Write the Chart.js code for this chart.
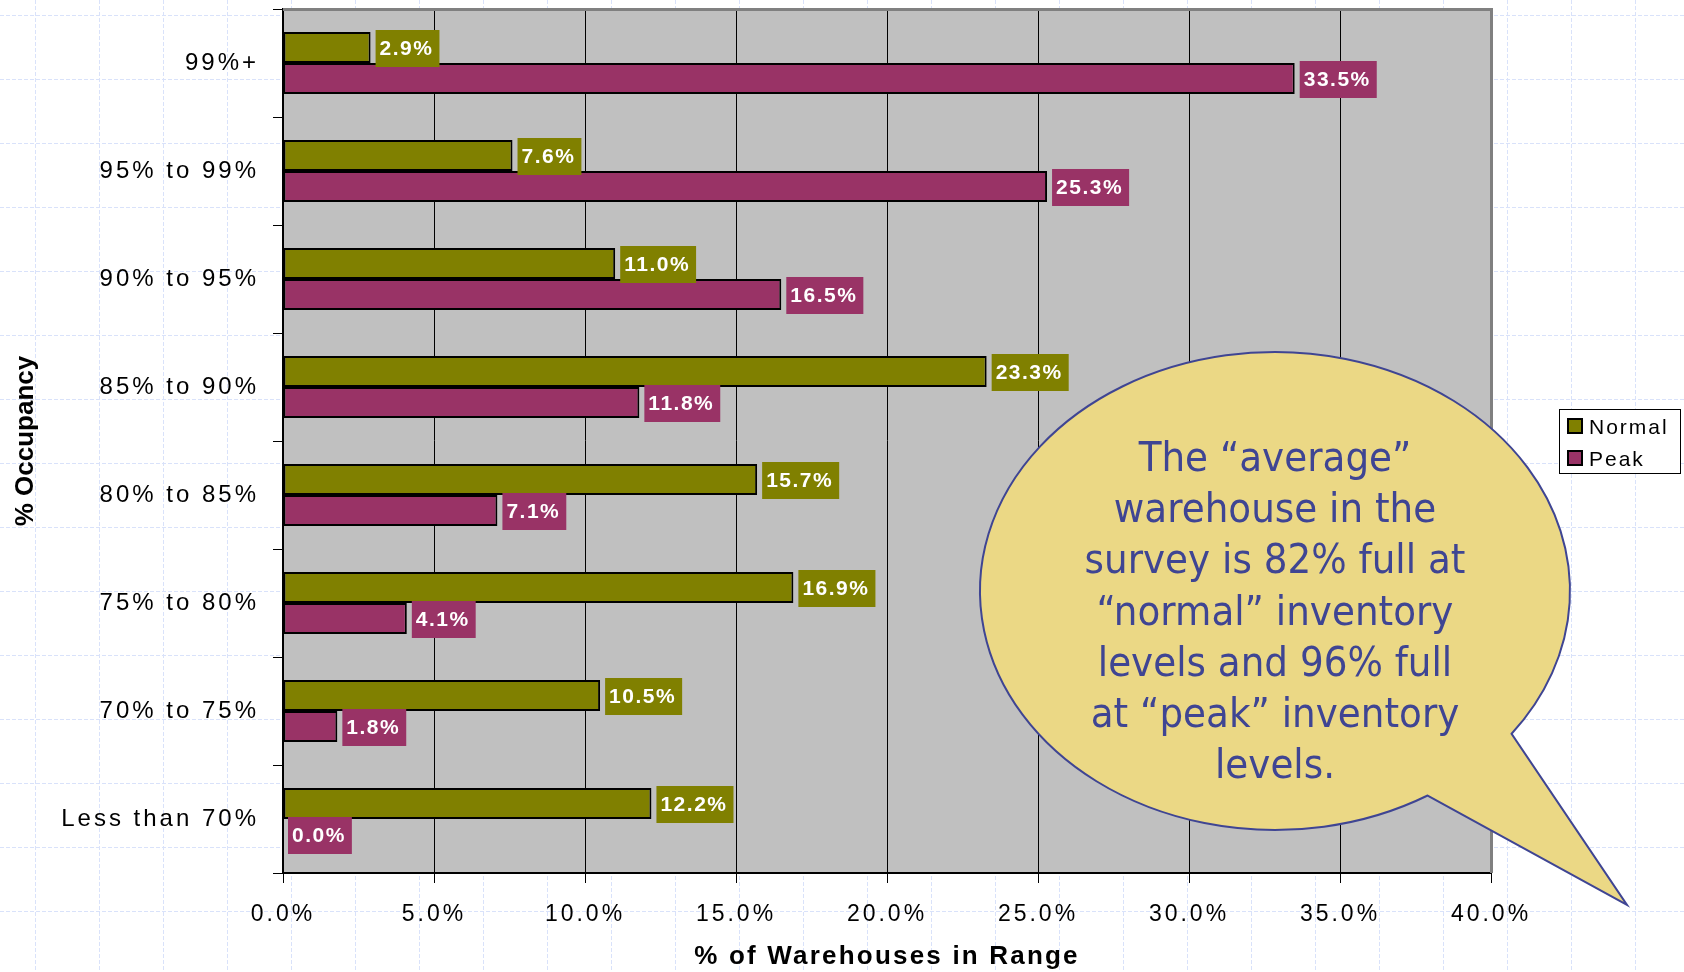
<!DOCTYPE html>
<html>
<head>
<meta charset="utf-8">
<script src="https://cdn.jsdelivr.net/npm/chart.js@4.4.1/dist/chart.umd.min.js"></script>
<style>
  html, body { margin: 0; padding: 0; background: #ffffff; }
  canvas { display: block; }
</style>
</head>
<body>
<canvas id="chart" width="1684" height="972"></canvas>
<script>
// Occupancy bands (top to bottom) and the share of warehouses in each band
const categories = ['99%+', '95% to 99%', '90% to 95%', '85% to 90%', '80% to 85%', '75% to 80%', '70% to 75%', 'Less than 70%'];
const normalValues = [2.9, 7.6, 11.0, 23.3, 15.7, 16.9, 10.5, 12.2];
const peakValues = [33.5, 25.3, 16.5, 11.8, 7.1, 4.1, 1.8, 0.0];
const seriesNames = ['Normal', 'Peak'];
const seriesColors = ['#808000', '#993366'];
const xAxisTitle = '% of Warehouses in Range';
const yAxisTitle = '% Occupancy';
const xMin = 0, xMax = 40, xStep = 5;
const calloutLines = [
  'The \u201caverage\u201d',
  'warehouse in the',
  'survey is 82% full at',
  '\u201cnormal\u201d inventory',
  'levels and 96% full',
  'at \u201cpeak\u201d inventory',
  'levels.'
];

const W = 1684, H = 972;
const AREA = { left: 283, top: 9, right: 1491, bottom: 873 };
const SANS = '"Liberation Sans", Arial, sans-serif';
const fmtPct = v => Number(v).toFixed(1) + '%';

// Draw a scale method with extra letter spacing
function withSpacing(scale, method, spacing) {
  const flag = '_spaced_' + method;
  if (!scale || scale[flag]) return;
  const orig = scale[method];
  scale[method] = function (...args) {
    const ctx = this.ctx;
    ctx.save();
    ctx.letterSpacing = spacing;
    orig.apply(this, args);
    ctx.restore();
  };
  scale[flag] = true;
}

// Keep the plot area at a fixed box regardless of label overflow
function fixBox(scale, size) {
  if (scale.isHorizontal()) scale.height = size; else scale.width = size;
  scale.paddingTop = 0;
  scale.paddingBottom = 0;
  scale.paddingLeft = 0;
  scale.paddingRight = 0;
}

// Page: white sheet with light dashed graph-paper grid, grey plot area
const backdrop = {
  id: 'backdrop',
  beforeDraw(chart) {
    const ctx = chart.ctx;
    const a = chart.chartArea;
    ctx.save();
    ctx.fillStyle = '#ffffff';
    ctx.fillRect(0, 0, W, H);
    ctx.strokeStyle = '#d9e2fa';
    ctx.lineWidth = 1;
    ctx.setLineDash([4, 2]);
    ctx.beginPath();
    for (let x = 35; x < W; x += 64) { ctx.moveTo(x + 0.5, 0); ctx.lineTo(x + 0.5, H); }
    for (let y = 15; y < H; y += 64) { ctx.moveTo(0, y + 0.5); ctx.lineTo(W, y + 0.5); }
    ctx.stroke();
    ctx.setLineDash([]);
    ctx.fillStyle = '#c0c0c0';
    ctx.fillRect(a.left, a.top, a.right - a.left, a.bottom - a.top);
    ctx.restore();

    withSpacing(chart.scales.y, 'drawLabels', '3px');
    withSpacing(chart.scales.x, 'drawLabels', '3px');
    withSpacing(chart.scales.x, 'drawTitle', '2.2px');
  }
};

// Value boxes next to each bar, grey frame on top/right of plot
const valueBoxes = {
  id: 'valueBoxes',
  afterDatasetsDraw(chart) {
    const ctx = chart.ctx;
    const a = chart.chartArea;
    ctx.save();
    ctx.strokeStyle = '#808080';
    ctx.lineWidth = 3;
    ctx.beginPath();
    ctx.moveTo(a.left, a.top + 0.5);
    ctx.lineTo(a.right + 0.5, a.top + 0.5);
    ctx.lineTo(a.right + 0.5, a.bottom);
    ctx.stroke();

    ctx.font = 'bold 21px ' + SANS;
    ctx.letterSpacing = '1.5px';
    ctx.textBaseline = 'middle';
    ctx.textAlign = 'left';
    chart.data.datasets.forEach((ds, di) => {
      const meta = chart.getDatasetMeta(di);
      meta.data.forEach((bar, i) => {
        const txt = fmtPct(ds.data[i]);
        const w = ctx.measureText(txt).width + 10;
        const h = 37;
        const x0 = Math.max(bar.x, a.left) + 5;
        const y0 = bar.y - h / 2 + 1;
        ctx.fillStyle = ds.backgroundColor;
        ctx.fillRect(x0, y0, w, h);
        ctx.fillStyle = '#ffffff';
        ctx.fillText(txt, x0 + 4, bar.y + 2);
      });
    });
    ctx.restore();
  }
};

// Legend box and speech-bubble note
const overlay = {
  id: 'overlay',
  afterDraw(chart) {
    const ctx = chart.ctx;
    ctx.save();

    // legend
    ctx.fillStyle = '#ffffff';
    ctx.fillRect(1559, 409, 122, 65);
    ctx.strokeStyle = '#000000';
    ctx.lineWidth = 1;
    ctx.strokeRect(1559.5, 409.5, 121, 64);
    ctx.font = '21px ' + SANS;
    ctx.letterSpacing = '2px';
    ctx.textBaseline = 'alphabetic';
    ctx.textAlign = 'left';
    const rows = [434, 466];
    chart.data.datasets.forEach((ds, di) => {
      const yb = rows[di];
      ctx.fillStyle = ds.backgroundColor;
      ctx.fillRect(1567, yb - 16, 16, 16);
      ctx.lineWidth = 2;
      ctx.strokeStyle = '#000000';
      ctx.strokeRect(1568, yb - 15, 14, 14);
      ctx.fillStyle = '#000000';
      ctx.fillText(ds.label, 1589, yb);
    });
    ctx.letterSpacing = '0px';

    // speech bubble
    const cx = 1275, cy = 591, rx = 295, ry = 239;
    const tA = Math.atan2((734 - cy) / ry, (1512 - cx) / rx);
    const tB = Math.atan2((796 - cy) / ry, (1428 - cx) / rx);
    ctx.beginPath();
    ctx.ellipse(cx, cy, rx, ry, 0, tB, tA + Math.PI * 2, false);
    ctx.lineTo(1627, 905);
    ctx.closePath();
    ctx.fillStyle = '#ebd885';
    ctx.fill();
    ctx.strokeStyle = '#3f4593';
    ctx.lineWidth = 2;
    ctx.stroke();

    ctx.fillStyle = '#3f4593';
    ctx.font = '40px "DejaVu Sans", sans-serif';
    ctx.textAlign = 'center';
    ctx.textBaseline = 'alphabetic';
    calloutLines.forEach((line, i) => {
      ctx.save();
      ctx.translate(cx, 471 + i * 51.2);
      ctx.scale(0.933, 1);
      ctx.fillText(line, 0, 0);
      ctx.restore();
    });
    ctx.restore();
  }
};

new Chart(document.getElementById('chart'), {
  type: 'bar',
  data: {
    labels: categories,
    datasets: [
      { label: seriesNames[0], data: normalValues, backgroundColor: seriesColors[0] },
      { label: seriesNames[1], data: peakValues, backgroundColor: seriesColors[1] }
    ]
  },
  options: {
    indexAxis: 'y',
    responsive: false,
    animation: false,
    devicePixelRatio: 1,
    layout: { padding: { left: 0, top: AREA.top, right: W - AREA.right, bottom: 0 } },
    datasets: {
      bar: {
        categoryPercentage: 0.574,
        barPercentage: 1,
        borderColor: '#000000',
        borderWidth: 2,
        borderSkipped: false
      }
    },
    plugins: {
      legend: { display: false },
      tooltip: { enabled: false }
    },
    scales: {
      x: {
        min: xMin,
        max: xMax,
        ticks: {
          stepSize: xStep,
          callback: v => fmtPct(v),
          color: '#000000',
          font: { family: SANS, size: 23 },
          padding: 18,
          maxRotation: 0,
          autoSkip: false
        },
        grid: { color: '#000000', lineWidth: 1, tickLength: 10, tickColor: '#000000', drawOnChartArea: true },
        border: { color: '#000000', width: 2 },
        title: {
          display: true,
          text: xAxisTitle,
          color: '#000000',
          font: { family: SANS, size: 26, weight: 'bold', lineHeight: 1.2 },
          padding: { top: 0, bottom: 0 }
        },
        afterFit: s => fixBox(s, H - AREA.bottom)
      },
      y: {
        ticks: {
          color: '#000000',
          font: { family: SANS, size: 24 },
          padding: 14,
          autoSkip: false
        },
        grid: { drawOnChartArea: false, tickLength: 10, tickColor: '#000000', color: '#000000' },
        border: { color: '#000000', width: 2 },
        title: {
          display: true,
          text: yAxisTitle,
          color: '#000000',
          font: { family: SANS, size: 26, weight: 'bold', lineHeight: 1.2 },
          padding: { top: 10, bottom: 0 }
        },
        afterFit: s => fixBox(s, AREA.left)
      }
    }
  },
  plugins: [backdrop, valueBoxes, overlay]
});
</script>
</body>
</html>
